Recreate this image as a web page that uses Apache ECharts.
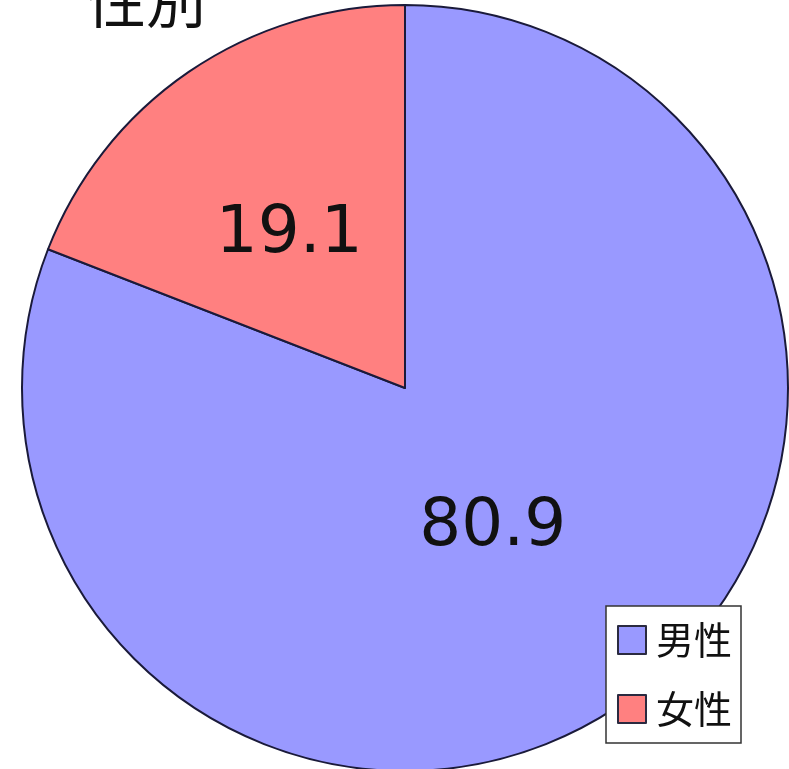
<!DOCTYPE html>
<html>
<head>
<meta charset="utf-8">
<script src="https://cdn.jsdelivr.net/npm/echarts@6/dist/echarts.min.js"></script>
<style>html,body{margin:0;padding:0;background:#fff;}#c{width:789px;height:769px;}</style>
</head>
<body>
<div id="c"></div>
<script>
var titleText = '性別';
var categories = ['男性', '女性'];
var values = [80.9, 19.1];
var colors = ['#9999FF', '#FF8080'];

var chart = echarts.init(document.getElementById('c'), null, {renderer: 'canvas'});
var labelOffsets = [[-22, -21], [-6, 7]];
chart.setOption({
  animation: false,
  backgroundColor: '#ffffff',
  title: {
    text: titleText,
    left: 86,
    top: -30,
    padding: 0,
    textStyle: {fontFamily: 'Noto Sans CJK JP', fontSize: 60, fontWeight: 'normal', color: '#111'}
  },
  legend: {
    orient: 'vertical',
    left: 606,
    top: 606,
    padding: [15, 9, 15, 11],
    itemGap: 31,
    itemWidth: 28,
    itemHeight: 28,
    icon: 'rect',
    backgroundColor: '#ffffff',
    borderColor: '#333333',
    borderWidth: 1.5,
    borderRadius: 0,
    data: categories,
    itemStyle: {borderColor: '#2a2a40', borderWidth: 2},
    textStyle: {fontFamily: 'Noto Sans CJK JP', fontSize: 38, color: '#111', padding: [0, 0, 0, 5]}
  },
  series: [{
    type: 'pie',
    center: [405, 388],
    radius: [0, 383],
    startAngle: 90,
    clockwise: true,
    avoidLabelOverlap: false,
    emphasis: {disabled: true},
    itemStyle: {borderColor: '#1a1a3a', borderWidth: 2},
    label: {
      show: true,
      position: 'inside',
      fontFamily: 'DejaVu Sans',
      fontSize: 66,
      color: '#111',
      formatter: function (p) { return p.value.toFixed(1); }
    },
    labelLine: {show: false},
    data: categories.map(function (c, i) {
      return {name: c, value: values[i], itemStyle: {color: colors[i]}, label: {offset: labelOffsets[i]}};
    })
  }]
});
</script>
</body>
</html>
